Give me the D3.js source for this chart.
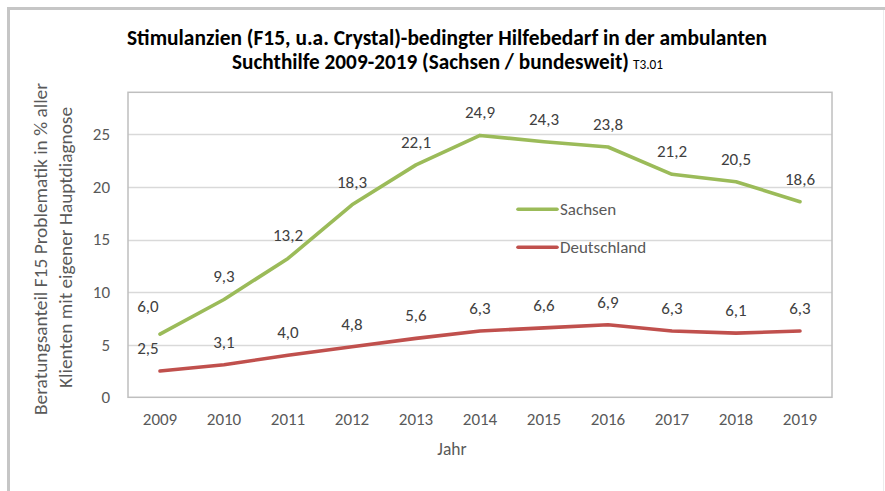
<!DOCTYPE html>
<html>
<head>
<meta charset="utf-8">
<script src="https://cdn.jsdelivr.net/npm/d3@7"></script>
<style>
  body { margin: 0; background: #fff; }
  svg { display: block; font-family: Carlito, Calibri, "Liberation Sans", Arial, sans-serif; }
</style>
</head>
<body>
<script>
//data
var years = ["2009", "2010", "2011", "2012", "2013", "2014", "2015", "2016", "2017", "2018", "2019"];
var sachsen = [6.0, 9.3, 13.2, 18.3, 22.1, 24.9, 24.3, 23.8, 21.2, 20.5, 18.6];
var deutschland = [2.5, 3.1, 4.0, 4.8, 5.6, 6.3, 6.6, 6.9, 6.3, 6.1, 6.3];
var seriesNames = ["Sachsen", "Deutschland"];
var yTicks = [0, 5, 10, 15, 20, 25];

var titleLines = ["Stimulanzien (F15, u.a. Crystal)-bedingter Hilfebedarf in der ambulanten",
                  "Suchthilfe 2009-2019 (Sachsen / bundesweit)"];
var titleNote = "T3.01";
var yTitle = ["Beratungsanteil F15 Problematik in % aller", "Klienten mit eigener Hauptdiagnose"];
var xTitle = "Jahr";

(function(){

    var width = 885, height = 491;
    var colors = ["#9bbb59", "#c0504d"];
    var textColor = "#595959";
    var fontSize = "17px";

    var svg = d3.select("body").append("svg")
        .attr("width", width)
        .attr("height", height);

    //outer chart border
    svg.append("path")
        .attr("d", "M8.5," + height + "V8.5H" + width)
        .attr("fill", "none")
        .attr("stroke", "#c6c6c6")
        .attr("stroke-width", 3);
    svg.append("line")
        .attr("x1", 883.5).attr("x2", 883.5)
        .attr("y1", 10).attr("y2", height)
        .attr("stroke", "#ececec")
        .attr("stroke-width", 1);

    //plot frame
    var plot = {left: 128, right: 832, top: 92.3, bottom: 397.3};

    var x = d3.scaleBand()
        .domain(years)
        .range([plot.left, plot.right])
        .padding(0);

    var y = d3.scaleLinear()
        .domain([0, 29])
        .range([plot.bottom, plot.top]);

    function cx(d){ return x(d) + x.bandwidth() / 2; }

    //gridlines
    svg.append("g")
        .selectAll("line")
        .data(yTicks.filter(function(t){ return t > 0; }))
        .enter()
        .append("line")
        .attr("x1", plot.left)
        .attr("x2", plot.right)
        .attr("y1", function(d){ return Math.round(y(d)) + 0.5; })
        .attr("y2", function(d){ return Math.round(y(d)) + 0.5; })
        .attr("stroke", "#d9d9d9")
        .attr("stroke-width", 1.3);

    //plot area border
    svg.append("rect")
        .attr("x", plot.left)
        .attr("y", plot.top)
        .attr("width", plot.right - plot.left)
        .attr("height", plot.bottom - plot.top)
        .attr("fill", "none")
        .attr("stroke", "#bfbfbf")
        .attr("stroke-width", 1.5);

    //y axis
    var yAxis = svg.append("g")
        .attr("transform", "translate(" + plot.left + ",0)")
        .call(d3.axisLeft(y).tickValues(yTicks).tickSize(0).tickPadding(18));
    yAxis.attr("font-family", null).attr("font-size", null);
    yAxis.select(".domain").remove();
    yAxis.selectAll("text")
        .attr("fill", textColor)
        .style("font-size", fontSize);

    //x axis
    var xAxis = svg.append("g")
        .attr("transform", "translate(0," + plot.bottom + ")")
        .call(d3.axisBottom(x).tickSize(0).tickPadding(16));
    xAxis.attr("font-family", null).attr("font-size", null);
    xAxis.select(".domain").remove();
    xAxis.selectAll("text")
        .attr("fill", textColor)
        .style("font-size", fontSize);

    //series lines
    var data = [sachsen, deutschland];
    var line = d3.line()
        .x(function(d, i){ return cx(years[i]); })
        .y(function(d){ return y(d); });

    svg.append("g")
        .selectAll("path")
        .data(data)
        .enter()
        .append("path")
        .attr("d", line)
        .attr("fill", "none")
        .attr("stroke", function(d, i){ return colors[i]; })
        .attr("stroke-width", 3.6)
        .attr("stroke-linecap", "round")
        .attr("stroke-linejoin", "round");

    //data labels
    data.forEach(function(series){
        svg.append("g")
            .selectAll("text")
            .data(series)
            .enter()
            .append("text")
            .attr("x", function(d, i){ return cx(years[i]) + (i === 0 ? -12 : 0); })
            .attr("y", function(d, i){ return y(d) - (i === 0 && series === sachsen ? 28 : 23); })
            .attr("dy", "0.35em")
            .attr("text-anchor", "middle")
            .attr("fill", "#404040")
            .style("font-size", fontSize)
            .text(function(d){ return d.toFixed(1).replace(".", ","); });
    });

    //legend
    var legend = svg.append("g")
        .selectAll("g")
        .data(seriesNames)
        .enter()
        .append("g")
        .attr("transform", function(d, i){ return "translate(518," + (209.3 + i * 38) + ")"; });
    legend.append("line")
        .attr("x1", 0).attr("x2", 39)
        .attr("stroke", function(d, i){ return colors[i]; })
        .attr("stroke-width", 3.6)
        .attr("stroke-linecap", "round");
    legend.append("text")
        .attr("x", 42)
        .attr("dy", "0.35em")
        .attr("fill", textColor)
        .style("font-size", fontSize)
        .text(function(d){ return d; });

    //title
    svg.append("text")
        .attr("x", 447)
        .attr("y", 45)
        .attr("text-anchor", "middle")
        .attr("font-weight", "bold")
        .attr("fill", "#000")
        .attr("textLength", 640)
        .attr("lengthAdjust", "spacingAndGlyphs")
        .style("font-size", "21.4px")
        .text(titleLines[0]);

    svg.append("text")
        .attr("x", 232)
        .attr("y", 69)
        .attr("font-weight", "bold")
        .attr("fill", "#000")
        .attr("textLength", 397)
        .attr("lengthAdjust", "spacingAndGlyphs")
        .style("font-size", "21.4px")
        .text(titleLines[1]);
    svg.append("text")
        .attr("x", 633)
        .attr("y", 69)
        .attr("fill", "#000")
        .style("font-size", "13.3px")
        .text(titleNote);

    //y axis title
    yTitle.forEach(function(txt, i){
        svg.append("text")
            .attr("transform", "translate(" + (41 + i * 25) + "," + (249 - i * 1.5) + ") rotate(-90)")
            .attr("text-anchor", "middle")
            .attr("dy", "0.35em")
            .attr("fill", textColor)
            .attr("textLength", i === 0 ? 332 : 281)
            .attr("lengthAdjust", "spacingAndGlyphs")
            .style("font-size", "17.6px")
            .text(txt);
    });

    //x axis title
    svg.append("text")
        .attr("x", 452)
        .attr("y", 449)
        .attr("dy", "0.35em")
        .attr("text-anchor", "middle")
        .attr("fill", textColor)
        .style("font-size", "17.5px")
        .text(xTitle);

})();
</script>
</body>
</html>
